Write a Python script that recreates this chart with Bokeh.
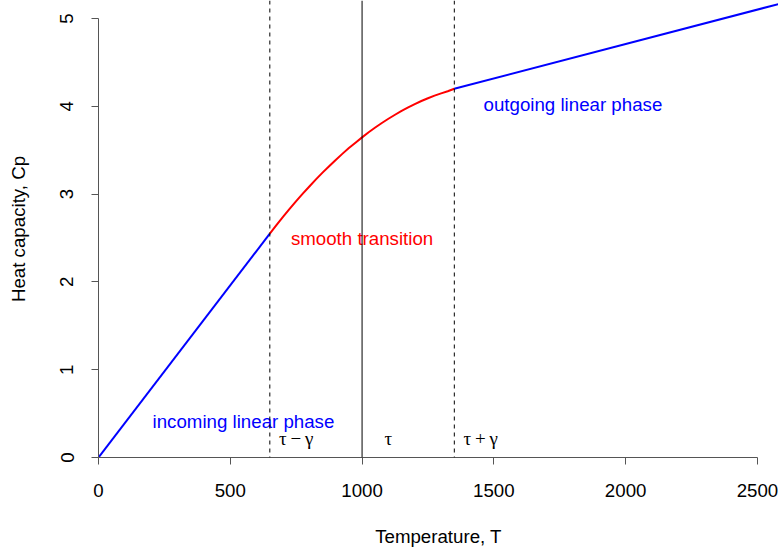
from bokeh.plotting import figure
from bokeh.models import Range1d, FixedTicker, Span
from bokeh.core.properties import value
from bokeh.embed import file_html
from bokeh.resources import INLINE

# ---- data ----
incoming_T = [0, 650]
incoming_Cp = [0.0, 2.55]

transition_T = [650, 675, 700, 725, 750, 775, 800, 825, 850, 875, 900, 925, 950, 975, 1000,
                1025, 1050, 1075, 1100, 1125, 1150, 1175, 1200, 1225, 1250, 1275, 1300, 1325, 1350]
transition_Cp = [2.550, 2.647, 2.740, 2.831, 2.920, 3.005, 3.087, 3.167, 3.244, 3.318, 3.389,
                 3.458, 3.524, 3.586, 3.646, 3.704, 3.758, 3.810, 3.858, 3.904, 3.948, 3.988,
                 4.025, 4.060, 4.092, 4.121, 4.147, 4.171, 4.200]

outgoing_T = [1350, 2600]
outgoing_Cp = [4.20, 5.18]

tau = 1000
gamma = 350
dashed_T = [tau - gamma, tau + gamma]

phase_labels = ["incoming linear phase", "outgoing linear phase"]
phase_label_T = [550, 1800]
phase_label_Cp = [0.41, 4.02]

transition_label = ["smooth transition"]
transition_label_T = [1000]
transition_label_Cp = [2.49]

greek_labels = ["\u03c4\u2009\u2212\u2009\u03b3", "\u03c4", "\u03c4\u2009+\u2009\u03b3"]
greek_T = [750, 1100, 1450]
greek_Cp = [0.22, 0.22, 0.22]

x_ticks = [0, 500, 1000, 1500, 2000, 2500]
y_ticks = [0, 1, 2, 3, 4, 5]

FONT = "Liberation Sans"
FS = "18.7px"

p = figure(width=778, height=551, output_backend="svg", toolbar_location=None,
           x_range=Range1d(0, 2580), y_range=Range1d(0, 5.205),
           min_border_left=98, min_border_bottom=94, min_border_top=0, min_border_right=0,
           x_axis_label="Temperature, T", y_axis_label="Heat capacity, Cp")
p.outline_line_color = None
p.xgrid.visible = False
p.ygrid.visible = False
p.background_fill_color = "white"
p.border_fill_color = "white"

for ax, ticks, bounds in ((p.xaxis[0], x_ticks, (0, 2500)), (p.yaxis[0], y_ticks, (0, 5))):
    ax.ticker = FixedTicker(ticks=ticks)
    ax.bounds = bounds
    ax.axis_line_color = "#555555"
    ax.major_tick_line_color = "#555555"
    ax.major_tick_out = 7
    ax.major_tick_in = 0
    ax.minor_tick_line_color = None
    ax.major_label_text_font = FONT
    ax.major_label_text_font_size = FS
    ax.major_label_text_color = "black"
    ax.axis_label_text_font = FONT
    ax.axis_label_text_font_size = FS
    ax.axis_label_text_font_style = "normal"
    ax.axis_label_text_color = "black"

p.xaxis.major_label_standoff = 19
p.xaxis.axis_label_standoff = 26
p.yaxis.major_label_orientation = "vertical"
p.yaxis.major_label_standoff = 18
p.yaxis.axis_label_standoff = 29

# vertical reference lines
for t in dashed_T:
    p.add_layout(Span(location=t, dimension="height", line_color="black",
                      line_width=1, line_dash="4 4"))
p.add_layout(Span(location=tau, dimension="height", line_color="black", line_width=1))

# curves
p.line(incoming_T, incoming_Cp, line_color="#0000FF", line_width=2)
p.line(transition_T, transition_Cp, line_color="#FF0000", line_width=2, line_join="round")
p.line(outgoing_T, outgoing_Cp, line_color="#0000FF", line_width=2)

# labels
p.text(x=phase_label_T, y=phase_label_Cp, text=phase_labels, text_color="#0000FF",
       text_font=value(FONT), text_font_size=FS, text_align="center", text_baseline="middle")
p.text(x=transition_label_T, y=transition_label_Cp, text=transition_label, text_color="#FF0000",
       text_font=value(FONT), text_font_size=FS, text_align="center", text_baseline="middle")
p.text(x=greek_T, y=greek_Cp, text=greek_labels, text_color="black",
       text_font=value("Liberation Serif"), text_font_size="19px", text_align="center",
       text_baseline="middle")

open("out.html", "w").write(file_html(p, INLINE))
